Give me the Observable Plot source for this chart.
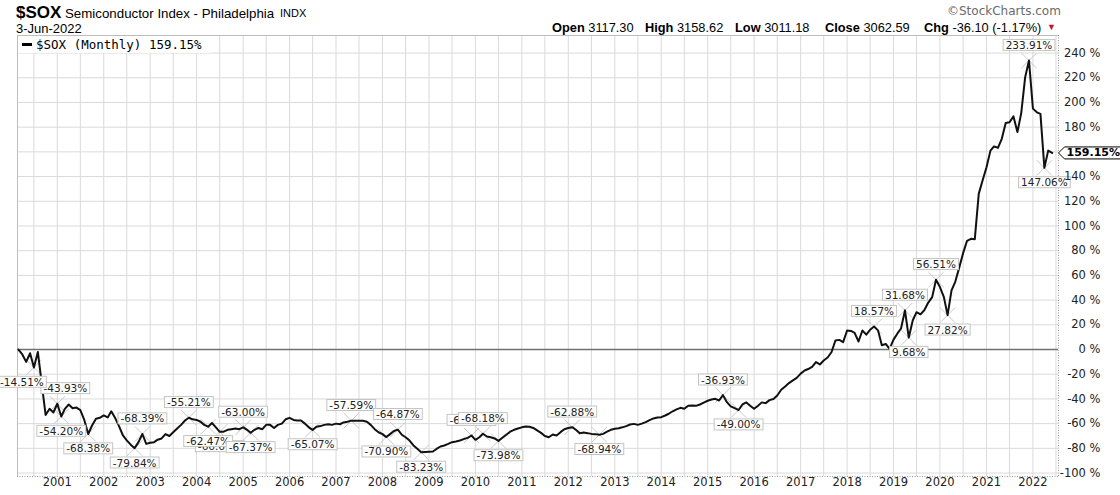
<!DOCTYPE html>
<html><head><meta charset="utf-8">
<script src="https://cdn.jsdelivr.net/npm/d3@7"></script>
<script src="https://cdn.jsdelivr.net/npm/@observablehq/plot@0.6"></script>
<style>
body{margin:0;background:#fff;}
#wrap{position:relative;width:1120px;height:495px;overflow:hidden;font-family:"Liberation Sans",Arial,sans-serif;background:#fff;}
#hdr{position:relative;height:34px;}
.h{position:absolute;white-space:nowrap;color:#000;line-height:1;}
.b{font-weight:bold;}
#legend{position:absolute;left:18px;top:36px;height:17px;width:192px;background:#fff;font-family:"DejaVu Sans Mono",monospace;font-size:12.5px;line-height:17px;white-space:nowrap;}
#legend .dash{display:inline-block;width:10px;height:3px;background:#000;vertical-align:middle;margin:0 4px 2px 4px;}
</style></head><body>
<div id="wrap">
  <div id="hdr">
    <span class="h b" style="left:16px;top:4px;font-size:17px;">$SOX</span>
    <span class="h" style="left:65px;top:6.5px;font-size:13.3px;">Semiconductor Index - Philadelphia</span>
    <span class="h" style="left:280px;top:8px;font-size:11px;">INDX</span>
    <span class="h" style="left:16px;top:22px;font-size:13px;">3-Jun-2022</span>
    <span class="h" style="left:947px;top:5px;font-size:12px;color:#6a6a6a;font-family:'DejaVu Sans',Verdana,sans-serif;">©StockCharts.com</span>
    <div id="ohlc"></div>
  </div>
  <div id="legend"><span class="dash"></span>$SOX (Monthly) 159.15%</div>
  <div id="chart"></div>
</div>
<script>
// ---- data ----
const firstMonth = [2000, 2]; // March 2000 (year, zero-based month)
const pctChange = [
  0, -4, -10, -3, -14.51, -2, -28, -53, -48, -51,
  -43.93, -54.2, -48, -44.5, -47.5, -47, -49, -57, -68.38, -61.5, -56, -55.3,
  -53.4, -55, -50, -55.5, -62, -69.6, -73.5, -77, -79.84, -75, -68.39, -76.4,
  -75.5, -75, -73, -72, -68.5, -70, -67, -64, -61, -57.5, -55.21, -56.5,
  -57, -58.5, -61, -62.47, -59.5, -63, -66.61, -66.5, -65, -64.5, -64, -64.5,
  -63.0, -65, -67.37, -65, -63.5, -64.5, -61, -61, -63.5, -61, -60, -56.5,
  -55.3, -57, -57.5, -57.5, -60, -63, -65.07, -62.5, -62, -61, -60.5, -61,
  -60, -60.5, -59, -58.5, -57.59, -57.6, -57.6, -57.7, -58.5, -61, -64.5, -67,
  -68.5, -70.9, -68.5, -66, -64.87, -69, -71, -73.7, -77.7, -80.4, -83.23, -83.0,
  -82.8, -82.6, -80.5, -78.5, -77.7, -76.4, -75, -74.5, -73.7, -72.5, -71.5, -69.62,
  -73.1, -71, -68.18, -70.4, -71, -72, -73.98, -71.5, -69, -66.5, -65, -64,
  -63, -62.3, -62.5, -63.5, -65.5, -67.5, -70, -71, -68.8, -69.6, -66.9, -64.5,
  -63.5, -62.88, -65, -67.7, -67.2, -67.7, -68.3, -68.5, -68.94, -68.3, -66.5, -65,
  -64.2, -63.8, -63, -62, -60.7, -60.2, -61, -60, -58.8, -57.2, -55.8, -55,
  -54.8, -53.4, -52, -50, -48.5, -47.2, -48, -45.5, -45.4, -45.6, -44.5, -43,
  -41.5, -40.5, -39.9, -41.3, -36.93, -42.6, -46, -47.5, -49.0, -44.5, -42.8, -45.5,
  -48, -45.5, -42.8, -43.4, -41, -40, -37.2, -32.6, -30, -27.2, -25, -23,
  -19.5, -17, -15.8, -14, -10.2, -12.1, -8.9, -6.5, -2, 7.3, 7.8, 6,
  15.4, 15, 13.5, 6.5, 15.4, 12, 16, 18.57, 15.5, 3.5, 4.5, 0.5,
  8, 13, 17, 31.68, 9.68, 23.5, 30.2, 28.5, 32, 38, 42.4, 56.51,
  50.5, 42.4, 27.82, 47.8, 55, 66.5, 78, 88, 89.6, 89.3, 126, 136.8,
  147.6, 161, 164.4, 163.3, 170.6, 183.3, 184, 188.7, 176, 191.4, 220.5, 233.91,
  195, 192, 190.8, 147.06, 161, 159.15
];
const swingIndex = [4, 10, 11, 18, 32, 30, 44, 52, 49, 60, 58, 76, 86, 98, 95, 104, 117, 120, 124, 143, 150, 182, 186, 221, 229, 230, 237, 240, 261, 265];
const swingText  = ["-14.51%","-43.93%","-54.20%","-68.38%","-68.39%","-79.84%","-55.21%","-66.61%","-62.47%","-67.37%","-63.00%","-65.07%","-57.59%","-64.87%","-70.90%","-83.23%","-69.62%","-68.18%","-73.98%","-62.88%","-68.94%","-36.93%","-49.00%","18.57%","31.68%","9.68%","56.51%","27.82%","233.91%","147.06%"];
const swingSide  = ["low","high","low","low","high","low","high","low","low","low","high","low","high","high","low","low","high","high","low","high","low","high","low","high","high","low","high","low","high","low"];
const yearTicks = d3.range(2001, 2023);
const pctTicks = d3.range(-100, 241, 20);
const lastLabel = "159.15%";
const ohlcKeys = ["Open", "High", "Low", "Close", "Chg"];
const ohlcVals = ["3117.30", "3158.62", "3011.18", "3062.59", "-36.10 (-1.17%)"];

// ---- layout / style (not data) ----
const ohlcLeft = [552, 645, 735, 825, 924];
const labelNudge = {"-14.51%": -12, "-43.93%": 8};

document.getElementById("ohlc").innerHTML =
  ohlcKeys.map((k, i) => `<span class="h" style="left:${ohlcLeft[i]}px;top:21.5px;font-size:12.8px;"><b>${k}</b> ${ohlcVals[i]}</span>`).join("") +
  '<span class="h" style="left:1047px;top:23px;font-size:9px;color:#c0143c;">&#9660;</span>';

// ---- build tables ----
const monthDate = i => new Date(Date.UTC(firstMonth[0], firstMonth[1] + i, 1));
const data = pctChange.map((v, i) => ({date: monthDate(i), value: v}));
const swings = swingIndex.map((idx, k) => ({date: monthDate(idx), value: pctChange[idx], text: swingText[k], side: swingSide[k]}));
const gridDates = [];
for (let y = 2000; y <= 2022; y++) { gridDates.push(new Date(Date.UTC(y, 0, 1))); gridDates.push(new Date(Date.UTC(y, 6, 1))); }
const xDomain = [new Date(Date.UTC(2000, 1, 23)), new Date(Date.UTC(2022, 6, 21))];
const yDomain = [-102.8, 254.2];
const inX = d => d >= xDomain[0] && d <= xDomain[1];
const lastValue = pctChange[pctChange.length - 1];

const chart = Plot.plot({
  width: 1120, height: 461,
  marginTop: 1, marginBottom: 19, marginLeft: 17, marginRight: 62,
  x: {type: "utc", domain: xDomain, axis: null},
  y: {domain: yDomain, axis: null},
  style: {fontFamily: "DejaVu Sans, Verdana, sans-serif", fontSize: "11px", background: "white", overflow: "visible"},
  marks: [
    Plot.ruleX(gridDates.filter(inX), {stroke: "#dadada", strokeWidth: 1}),
    Plot.ruleY(pctTicks.filter(d => d !== 0), {stroke: "#dadada", strokeWidth: 1}),
    Plot.ruleY([0], {stroke: "#707070", strokeWidth: 1.5}),
    Plot.ruleX([xDomain[0]], {stroke: "#bdbdbd"}),
    Plot.ruleY([yDomain[1]], {stroke: "#bdbdbd"}),
    Plot.ruleX([xDomain[1]], {stroke: "#9a9a9a", strokeDasharray: "1,1.5"}),
    Plot.ruleY([yDomain[0]], {stroke: "#9a9a9a", strokeDasharray: "1,1.5"}),
    Plot.dot(swings, {x: "date", y: "value", symbol: "times", r: 7, stroke: "#c9c9c9", strokeWidth: 1}),
    Plot.line(data, {x: "date", y: "value", stroke: "#111", strokeWidth: 2, strokeLinejoin: "round"}),
    Plot.text(swings.filter(d => d.side === "high"), {x: "date", y: "value", text: "text", dy: -15, fill: "#222", fontSize: 10.5}),
    Plot.text(swings.filter(d => d.side === "low"), {x: "date", y: "value", text: "text", dy: 15, fill: "#222", fontSize: 10.5}),
    Plot.text(yearTicks.map(y => new Date(Date.UTC(y, 0, 1))), {x: d => d, frameAnchor: "bottom", dy: 9, text: d => String(d.getUTCFullYear()), fill: "#222", fontSize: 11.5}),
    Plot.text(pctTicks.filter(d => d !== 160), {y: d => d, frameAnchor: "right", dx: 42, textAnchor: "end", text: d => `${d} %`, fill: "#222", fontSize: 11.5}),
    Plot.text([lastValue], {y: d => d, frameAnchor: "right", dx: 8, textAnchor: "start", text: () => lastLabel, fill: "#000", fontWeight: "bold", fontSize: 11})
  ]
});
document.getElementById("chart").appendChild(chart);

// ---- label boxes (sized from the rendered text) ----
const swingSet = new Set(swingText);
d3.select(chart).selectAll("text").each(function() {
  const txt = this.textContent;
  const parent = d3.select(this.parentNode);
  if (swingSet.has(txt)) {
    const nudge = labelNudge[txt] || 0;
    if (nudge) this.setAttribute("x", (+this.getAttribute("x") || 0) + nudge);
    const bb = this.getBBox();
    const tr = this.getAttribute("transform");
    const r = parent.insert("rect", () => this)
      .attr("x", bb.x - 2.5).attr("y", bb.y + 0.5)
      .attr("width", bb.width + 5).attr("height", bb.height - 1)
      .attr("fill", "white").attr("stroke", "#c4c4c4").attr("stroke-width", 1);
    if (tr) r.attr("transform", tr);
  } else if (txt === lastLabel) {
    const bb = this.getBBox();
    const tr = this.getAttribute("transform");
    const x0 = bb.x - 2, x1 = bb.x + bb.width + 2, y0 = bb.y + 0.5, y1 = bb.y + bb.height - 0.5, cy = (y0 + y1) / 2;
    const p = parent.insert("path", () => this)
      .attr("d", `M${x0},${y0}H${x1}V${y1}H${x0}L${x0 - 6},${cy}Z`)
      .attr("fill", "white").attr("stroke", "#000").attr("stroke-width", 1);
    if (tr) p.attr("transform", tr);
  }
});
</script>
</body></html>
